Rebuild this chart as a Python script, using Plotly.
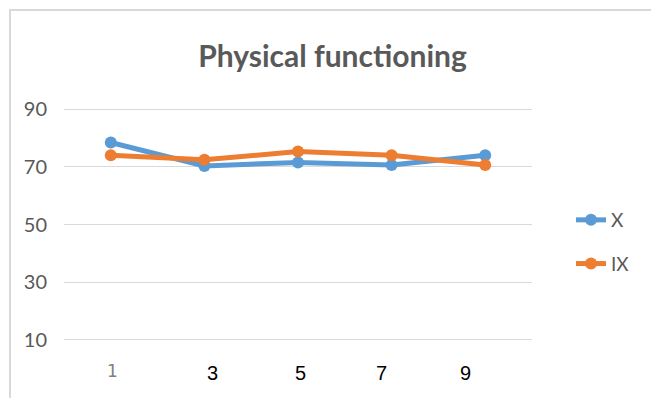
import plotly.graph_objects as go

# Survey rounds and mean scores per group
rounds = [1, 3, 5, 7, 9]
round_labels = ["1", "3", "5", "7", "9"]
score_x = [78.4, 70.3, 71.5, 70.6, 74.0]
score_ix = [74.0, 72.4, 75.3, 74.0, 70.6]
y_ticks = [10, 30, 50, 70, 90]

W, H = 651, 398
L, R, T, B = 64, 119, 107, 56
plot_w = W - L - R
plot_h = H - T - B


def px_x(p):
    return (p - L) / plot_w


def px_y(p):
    return (H - B - p) / plot_h


BLUE = "#5B9BD5"
ORANGE = "#ED7D31"
GRAY = "#595959"

fig = go.Figure()
fig.add_trace(go.Scatter(
    x=rounds, y=score_x, name="X", mode="lines+markers",
    line=dict(color=BLUE, width=5), marker=dict(color=BLUE, size=12),
    legendgroup="a",
))
fig.add_trace(go.Scatter(
    x=rounds, y=score_ix, name="IX", mode="lines+markers",
    line=dict(color=ORANGE, width=5), marker=dict(color=ORANGE, size=12),
    legendgroup="b",
))

# x labels written below the axis
label_shift = [2, 8, 2, -10, -20]
for i, (r, lab) in enumerate(zip(rounds, round_labels)):
    first = i == 0
    fig.add_annotation(
        x=r, y=y_ticks[0], xref="x", yref="y", yshift=-31 if first else -33,
        xshift=label_shift[i], yanchor="middle",
        text=lab, showarrow=False,
        font=dict(family="DejaVu Sans" if first else "Liberation Sans",
                  size=17 if first else 20,
                  color="#7f7f7f" if first else "#000000"),
    )

# outer chart frame (top and left edges)
frame = dict(color="#d9d9d9", width=2)
fig.add_shape(type="line", xref="paper", yref="paper",
              x0=px_x(9), x1=px_x(652), y0=px_y(10), y1=px_y(10), line=frame)
fig.add_shape(type="line", xref="paper", yref="paper",
              x0=px_x(10), x1=px_x(10), y0=px_y(10), y1=px_y(400), line=frame)

fig.update_layout(
    width=W, height=H,
    margin=dict(l=L, r=R, t=T, b=B),
    paper_bgcolor="white", plot_bgcolor="white",
    title=dict(text="Physical functioning", x=px_x(332.5), xanchor="center",
               xref="paper", y=1 - 56 / H, yanchor="middle", yref="container",
               font=dict(family="Lato", size=30, color=GRAY, weight=700)),
    xaxis=dict(range=[0, 10], showgrid=False, zeroline=False, showline=False,
               showticklabels=False, fixedrange=True),
    yaxis=dict(range=[9.3, 90.7], tickvals=y_ticks, showgrid=True,
               gridcolor="#d9d9d9", gridwidth=1, zeroline=False, showline=False,
               ticklabelstandoff=16,
               tickfont=dict(family="Lato", size=20, color=GRAY)),
    legend=dict(x=px_x(571), y=px_y(201), xanchor="left", yanchor="top",
                font=dict(family="Lato", size=19, color=GRAY),
                tracegroupgap=16, bgcolor="rgba(0,0,0,0)"),
    showlegend=True,
)

fig.write_html("out.html")
